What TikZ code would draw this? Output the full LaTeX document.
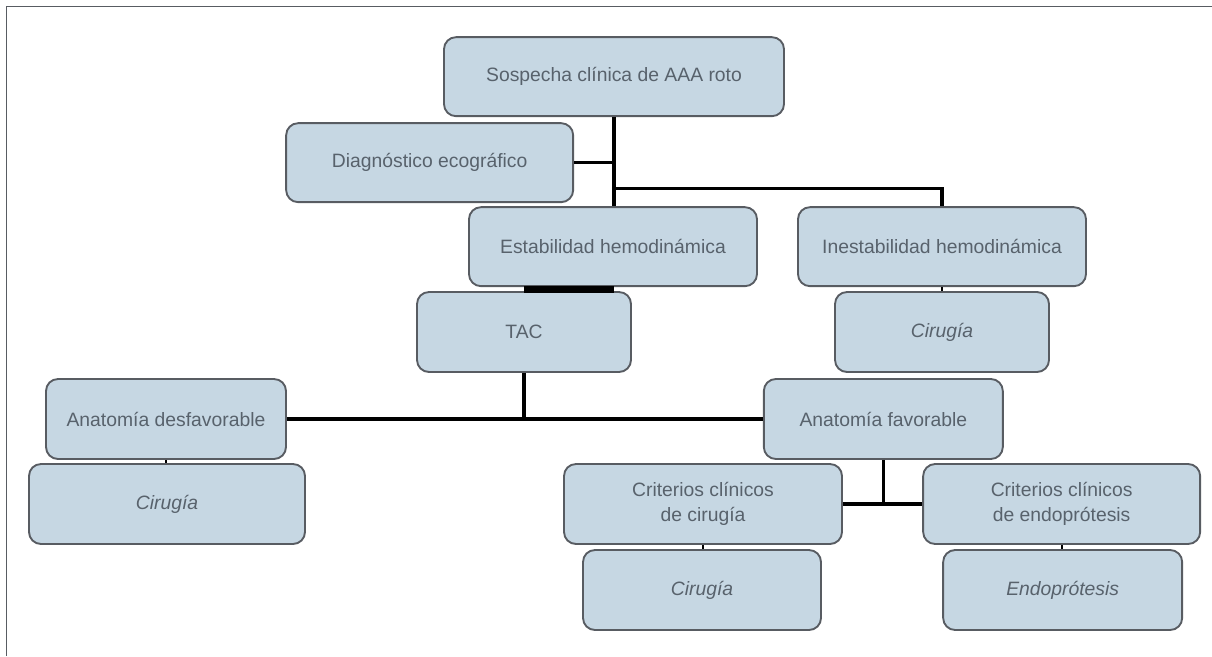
\documentclass[tikz,border=0pt]{standalone}
\usepackage{fontspec}
\setmainfont{Liberation Sans}
\usepackage{xcolor}
\usepackage{tikz}
\usetikzlibrary{calc}

\definecolor{boxfill}{RGB}{198,215,227}
\definecolor{boxline}{RGB}{88,92,98}
\definecolor{boxtext}{RGB}{88,98,108}

\begin{document}
\begin{tikzpicture}[
x=1cm,
y=1cm,
every node/.style={font=\fontsize{16.5}{21.5}\selectfont,text=boxtext},
paso/.style={rectangle,rounded corners=0.36cm,draw=boxline,line width=1.6pt,fill=boxfill,align=center,minimum height=2.37cm,inner sep=2pt},
fin/.style={paso,font=\fontsize{16.5}{21.5}\selectfont\itshape},
link/.style={draw=black,line width=2.6pt},
tick/.style={draw=black,line width=2pt}
]
\useasboundingbox (0,0) rectangle (36.36,-19.68);
\draw[boxline,line width=1.4pt] (0.2,-19.68) -- (0.2,-0.2) -- (36.36,-0.2);

\node[paso,minimum width=10.2cm] (sosp) at (18.42,-2.30) {Sospecha clínica de AAA roto};
\node[paso,minimum width=8.61cm] (diag) at (12.89,-4.88) {Diagnóstico ecográfico};
\node[paso,minimum width=8.64cm] (estab) at (18.39,-7.40) {Estabilidad hemodinámica};
\node[paso,minimum width=8.64cm] (inest) at (28.26,-7.40) {Inestabilidad hemodinámica};
\node[paso,minimum width=6.42cm,minimum height=2.4cm] (tac) at (15.72,-9.96) {TAC};
\node[fin,minimum width=6.42cm,minimum height=2.4cm] (cirI) at (28.26,-9.96) {Cirugía};
\node[paso,minimum width=7.2cm,minimum height=2.4cm] (adesf) at (4.98,-12.57) {Anatomía desfavorable};
\node[fin,minimum width=8.28cm,minimum height=2.4cm] (cirL) at (5.01,-15.12) {Cirugía};
\node[paso,minimum width=7.17cm,minimum height=2.4cm] (afav) at (26.50,-12.57) {Anatomía favorable};
\node[paso,minimum width=8.34cm,minimum height=2.4cm] (crcir) at (21.09,-15.12) {Criterios clínicos\\de cirugía};
\node[paso,minimum width=8.31cm,minimum height=2.4cm] (crend) at (31.85,-15.12) {Criterios clínicos\\de endoprótesis};
\node[fin,minimum width=7.14cm,minimum height=2.4cm] (cirB) at (21.06,-17.70) {Cirugía};
\node[fin,minimum width=7.17cm,minimum height=2.4cm] (endo) at (31.88,-17.70) {Endoprótesis};

% tronco principal
\coordinate (j1) at ($(sosp.south)!0.8!(sosp.south |- estab.north)$);
\draw[link] (sosp.south) -- (sosp.south |- estab.north);
\draw[link] (diag.east) -- (diag.east -| sosp.south);
\draw[link] (j1) -| (inest.north);
% estable -> TAC
\coordinate (j2) at ($(estab.south)!0.5!(estab.south |- tac.north)$);
\draw[black,line width=6pt] (j2 -| tac.north) -- (j2 -| sosp.south);
\draw[tick] (inest.south) -- (cirI.north);
% TAC -> anatomia
\draw[link] (tac.south) -- (tac.south |- adesf.east);
\draw[link] (adesf.east) -- (afav.west);
\draw[tick] (adesf.south) -- (adesf.south |- cirL.north);
% anatomia favorable -> criterios
\draw[link] (afav.south) -- (afav.south |- crcir.east);
\draw[link] (crcir.east) -- (crend.west);
\draw[tick] (crcir.south) -- (crcir.south |- cirB.north);
\draw[tick] (crend.south) -- (crend.south |- endo.north);
\end{tikzpicture}
\end{document}
